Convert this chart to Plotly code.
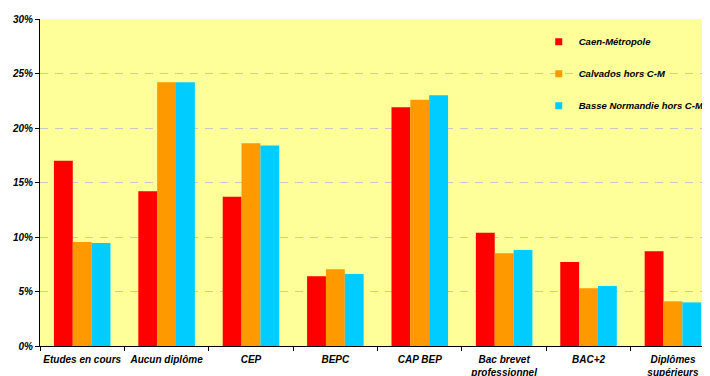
import plotly.graph_objects as go

categories = ["Etudes en cours", "Aucun diplôme", "CEP", "BEPC", "CAP BEP",
              "Bac brevet<br>professionnel", "BAC+2", "Diplômes<br>supérieurs"]
caen_metropole = [17.0, 14.2, 13.7, 6.4, 21.9, 10.4, 7.7, 8.7]
calvados_hors_cm = [9.55, 24.2, 18.6, 7.05, 22.6, 8.5, 5.3, 4.1]
basse_normandie_hors_cm = [9.45, 24.2, 18.4, 6.6, 23.0, 8.8, 5.5, 4.0]
series_names = ["Caen-Métropole", "Calvados hors C-M", "Basse Normandie hors C-M"]
series_colors = ["#FF0000", "#FF9900", "#00CCFF"]
y_ticks = [0, 5, 10, 15, 20, 25, 30]
y_tick_labels = ["0%", "5%", "10%", "15%", "20%", "25%", "30%"]

FONT = "Liberation Sans, Arial, sans-serif"

fig = go.Figure()
for name, vals, col in zip(series_names,
                           [caen_metropole, calvados_hors_cm, basse_normandie_hors_cm],
                           series_colors):
    fig.add_trace(go.Bar(x=categories, y=vals, name=name, marker_color=col,
                         marker_line_width=0, showlegend=False))
# legend entries with small square swatches
for name, col in zip(series_names, series_colors):
    fig.add_trace(go.Scatter(x=[None], y=[None], mode="markers", name=name,
                             legendgroup=name,
                             marker=dict(symbol="square", size=7, color=col)))

fig.update_layout(
    width=702, height=368,
    margin=dict(l=32, r=0, t=11, b=30),
    paper_bgcolor="white",
    plot_bgcolor="#FFFF99",
    barmode="group",
    bargap=0.33,
    bargroupgap=0,
    font=dict(family=FONT, size=10, color="black", weight="bold", style="italic"),
    legend=dict(x=0.75, y=0.975, xanchor="left", yanchor="top",
                bgcolor="rgba(0,0,0,0)", borderwidth=0,
                tracegroupgap=13,
                font=dict(family=FONT, size=9.5, color="black", weight="bold", style="italic")),
    xaxis=dict(range=[-0.5, 7.38], showline=True, linecolor="black", linewidth=1,
               ticks="outside", tickson="boundaries", ticklen=4, tickcolor="black",
               showgrid=False, tickangle=0, ticklabelstandoff=4, automargin=False,
               tickfont=dict(family=FONT, size=10, weight="bold", style="italic")),
    yaxis=dict(range=[0, 30], tickvals=y_ticks, ticktext=y_tick_labels,
               showline=True, linecolor="black", linewidth=1,
               ticks="outside", ticklen=4, tickcolor="black",
               showgrid=True, gridcolor="#C8C8C8", gridwidth=1, griddash="8px,7px",
               zeroline=False, automargin=False,
               tickfont=dict(family=FONT, size=10, weight="bold", style="italic")),
)

fig.write_html("out.html")
